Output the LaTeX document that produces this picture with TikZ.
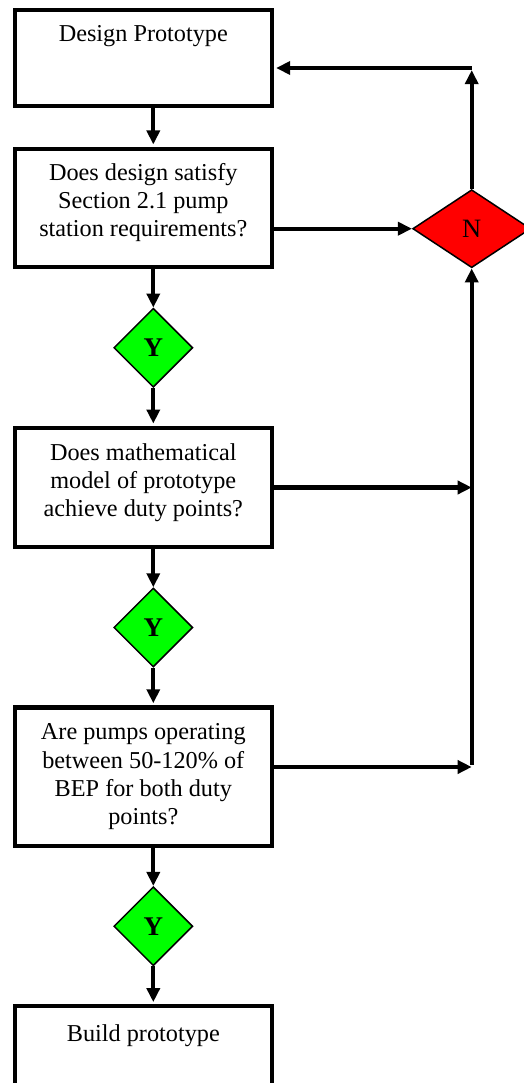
\documentclass[tikz,border=0pt]{standalone}
\usepackage{fontspec}
\setmainfont{Liberation Serif}
\usetikzlibrary{arrows.meta,shapes.geometric}
\begin{document}
\begin{tikzpicture}[x=1pt,y=-1pt,
  box/.style={draw=black, line width=4.2pt, minimum width=257.3pt, inner sep=0pt, fill=white},
  txt/.style={font=\fontsize{24.25}{28.3}\selectfont, align=center, inner sep=0pt},
  ydia/.style={diamond, draw=black, line width=1.5pt, fill=green, minimum width=79pt, minimum height=79pt, inner sep=0pt, font=\fontsize{27}{30}\selectfont\bfseries},
  ndia/.style={diamond, draw=black, line width=1.5pt, fill=red, minimum width=118pt, minimum height=78pt, inner sep=0pt, font=\fontsize{26.5}{30}\selectfont},
  arr/.style={line width=4.2pt, -{Triangle[length=14pt,width=13pt]}},
  tobox/.style={arr, shorten >=2.1pt}
]
\useasboundingbox (0,0) rectangle (523,1083);

% boxes
\node[box, minimum height=96pt] (b1) at (143.3,57.7) {};
\node[txt, anchor=base] (t1) at (143.3,42) {Design Prototype};
\node[box, minimum height=118.3pt] (b2) at (143.3,207.8) {};
\node[txt] (t2) at (143.3,202.7) {Does design satisfy\\Section 2.1 pump\\station requirements?};
\node[box, minimum height=119.5pt] (b3) at (143.3,487.5) {};
\node[txt] (t3) at (143.3,482.7) {Does mathematical\\model of prototype\\achieve duty points?};
\node[box, minimum height=138.5pt] (b4) at (143.3,776.7) {};
\node[txt] (t4) at (143.3,776.8) {Are pumps operating\\between 50-120\% of\\BEP for both duty\\points?};
\node[box, minimum height=150pt] (b5) at (143.3,1081.3) {};
\node[txt, anchor=base] (t5) at (143.3,1041) {Build prototype};

% diamonds
\node[ydia] (y1) at (153.3,347.8) {Y};
\node[ydia] (y2) at (153.3,627.5) {Y};
\node[ydia] (y3) at (153.3,926.2) {Y};
\node[ndia] (n) at (471.7,228.7) {N};

\coordinate (c1) at (471.7,68);
\coordinate (c2) at (471.7,767);

% main flow
\draw[tobox] (b1.south -| y1.north) -- (b2.north -| y1.north);
\draw[arr] (b2.south -| y1.north) -- (y1.north);
\draw[tobox] (y1.south) -- (b3.north -| y1.south);
\draw[arr] (b3.south -| y2.north) -- (y2.north);
\draw[tobox] (y2.south) -- (b4.north -| y2.south);
\draw[arr] (b4.south -| y3.north) -- (y3.north);
\draw[tobox] (y3.south) -- (b5.north -| y3.south);

% no branch
\draw[arr] (b2.east |- n.west) -- (n.west);
\draw[arr, shorten >=2.1pt] (n.north) -- (c1);
\draw[tobox] (c1) -- (c1 -| b1.east);
\draw[arr] (b3.east) -- (b3.east -| c2);
\draw[arr] (b4.east |- c2) -- (c2);
\draw[arr] ([yshift=2.1pt]c2) -- (n.south);
\end{tikzpicture}
\end{document}
